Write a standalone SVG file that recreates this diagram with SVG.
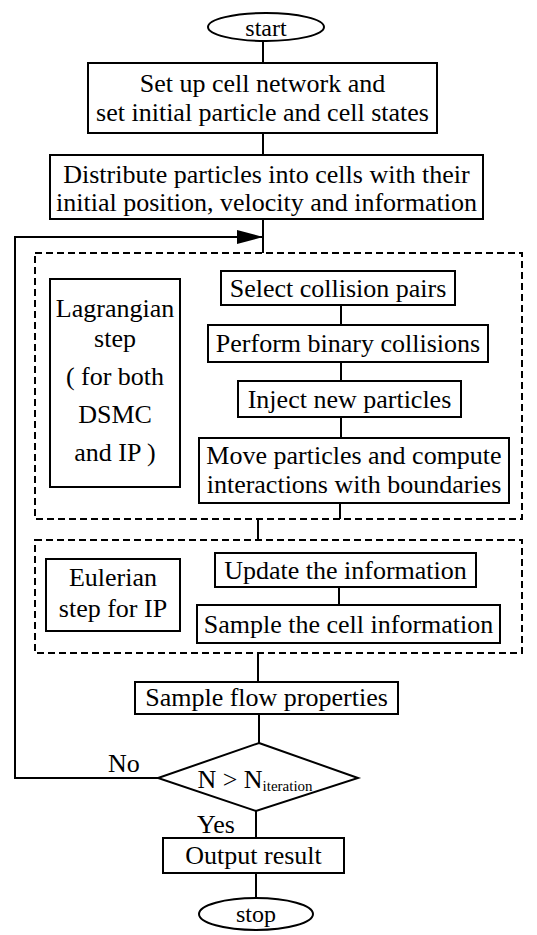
<svg xmlns="http://www.w3.org/2000/svg" width="537" height="935" viewBox="0 0 537 935" font-family="'Liberation Serif', 'DejaVu Serif', serif">
<style>
.n{fill:#fff;stroke:#000;stroke-width:2}
.d{fill:none;stroke:#000;stroke-width:2;stroke-dasharray:7 4}
.c{fill:none;stroke:#000;stroke-width:2}
text{font-family:'Liberation Serif','DejaVu Serif',serif;font-size:26px;fill:#000;text-anchor:middle}
.l{text-anchor:start}
</style>
<defs>
<marker id="ah" markerWidth="26" markerHeight="14" refX="26" refY="7" orient="auto" markerUnits="userSpaceOnUse">
<path d="M0,0 L26,7 L0,14 Z" fill="#000"/>
</marker>
</defs>
<rect width="537" height="935" fill="#fff"/>
<g id="groups">
<rect id="lagrangian-group" class="d" x="35" y="253" width="487" height="266"/>
<rect id="eulerian-group" class="d" x="35" y="540" width="487" height="113"/>
</g>
<g id="connectors">
<path class="c" d="M263,41 V63"/>
<path class="c" d="M263,133 V155"/>
<path class="c" d="M263,219 V253"/>
<path class="c" d="M158,778 H15 V237 H263" marker-end="url(#ah)"/>
<path class="c" d="M341,305 V325"/>
<path class="c" d="M341,362 V381"/>
<path class="c" d="M341,417 V438"/>
<path class="c" d="M340,503 V519"/>
<path class="c" d="M258,519 V540"/>
<path class="c" d="M339,587 V605"/>
<path class="c" d="M258,653 V682"/>
<path class="c" d="M259,714 V743"/>
<path class="c" d="M256,811 V838"/>
<path class="c" d="M256,873 V898"/>
<text class="l" x="108" y="772" font-family="Liberation Serif">No</text>
<text class="l" x="197" y="833" font-family="Liberation Serif">Yes</text>
</g>
<g id="start">
<ellipse class="n" cx="266" cy="27" rx="58" ry="14"/>
<text x="266" y="36" style="font-size:24px">start</text>
</g>
<g id="setup">
<rect class="n" x="88" y="63" width="349" height="70"/>
<text x="262.5" y="92">Set up cell network and</text>
<text x="262.5" y="121">set initial particle and cell states</text>
</g>
<g id="distribute">
<rect class="n" x="50" y="155" width="433" height="64"/>
<text x="266.5" y="183">Distribute particles into cells with their</text>
<text x="266.5" y="211">initial position, velocity and information</text>
</g>
<g id="lagrangian">
<rect class="n" x="50" y="279" width="130" height="208"/>
<text x="115" y="317">Lagrangian</text>
<text x="115" y="347">step</text>
<text x="115" y="385">( for both</text>
<text x="115" y="423">DSMC</text>
<text x="115" y="461">and IP )</text>
</g>
<g id="select">
<rect class="n" x="221" y="271" width="234" height="34"/>
<text x="338" y="297">Select collision pairs</text>
</g>
<g id="perform">
<rect class="n" x="208" y="325" width="280" height="37"/>
<text x="348" y="352">Perform binary collisions</text>
</g>
<g id="inject">
<rect class="n" x="238" y="381" width="223" height="36"/>
<text x="349.5" y="408">Inject new particles</text>
</g>
<g id="move">
<rect class="n" x="199" y="438" width="310" height="65"/>
<text x="354" y="464">Move particles and compute</text>
<text x="354" y="493">interactions with boundaries</text>
</g>
<g id="eulerian">
<rect class="n" x="46" y="559" width="134" height="72"/>
<text x="113" y="586">Eulerian</text>
<text x="113" y="617">step for IP</text>
</g>
<g id="update">
<rect class="n" x="215" y="553" width="261" height="34"/>
<text x="345.5" y="579">Update the information</text>
</g>
<g id="samplecell">
<rect class="n" x="197" y="605" width="303" height="38"/>
<text x="348.5" y="633">Sample the cell information</text>
</g>
<g id="sampleflow">
<rect class="n" x="135" y="682" width="263" height="32"/>
<text x="266.5" y="706">Sample flow properties</text>
</g>
<g id="decision">
<polygon class="n" points="259,743 358,778 256,811 158,778"/>
<text x="255" y="788">N &gt; N<tspan style="font-size:15px" dy="3">iteration</tspan></text>
</g>
<g id="output">
<rect class="n" x="163" y="838" width="181" height="35"/>
<text x="253.5" y="864">Output result</text>
</g>
<g id="stop">
<ellipse class="n" cx="256" cy="914" rx="57" ry="16"/>
<text x="256" y="922" style="font-size:24px">stop</text>
</g>
</svg>
